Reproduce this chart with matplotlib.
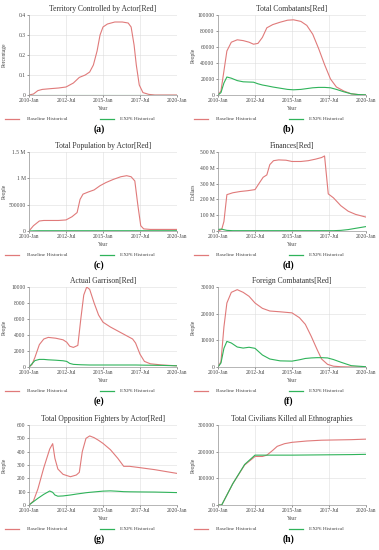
import matplotlib.pyplot as plt
import numpy as np

plt.rcParams['font.family'] = ['Liberation Serif', 'DejaVu Serif']

RED = '#e07a7a'
GREEN = '#2fb35a'

xticks = [2010, 2012.5, 2015, 2017.5, 2020]
xticklabels = ['2010-Jan', '2012-Jul', '2015-Jan', '2017-Jul', '2020-Jan']

# (a) Territory Controlled by Actor[Red]
terr_t = [2010, 2010.3, 2010.6, 2010.9, 2011.5, 2012, 2012.5, 2013, 2013.4, 2013.8, 2014.1, 2014.35,
          2014.6, 2014.8, 2015.0, 2015.3, 2015.8, 2016.3, 2016.7, 2016.9, 2017.1, 2017.25, 2017.45,
          2017.7, 2018.1, 2018.5, 2020]
terr_red = [0, 0.005, 0.022, 0.028, 0.032, 0.035, 0.04, 0.06, 0.088, 0.1, 0.115, 0.15,
            0.22, 0.3, 0.34, 0.355, 0.365, 0.365, 0.36, 0.34, 0.25, 0.15, 0.05,
            0.012, 0.003, 0, 0]
terr_green_t = [2010, 2020]
terr_green = [0, 0]

# (b) Total Combatants[Red]
comb_t = [2010, 2010.2, 2010.4, 2010.6, 2010.9, 2011.3, 2011.7, 2012.1, 2012.4, 2012.7, 2013.0, 2013.3,
          2013.7, 2014.2, 2014.7, 2015.1, 2015.6, 2016.0, 2016.4, 2016.8, 2017.2, 2017.6, 2018.0,
          2018.5, 2019.0, 2019.5, 2020]
comb_red = [0, 5000, 30000, 55000, 66000, 69000, 68000, 66000, 63500, 64500, 72000, 84000,
            88000, 91000, 93500, 94000, 92000, 87000, 76000, 58000, 38000, 20000, 10000,
            5000, 1500, 500, 0]
comb_green = [0, 3000, 15000, 22500, 21000, 18000, 16500, 16200, 16000, 14000, 12500, 11500,
              10000, 8500, 7000, 6500, 7000, 8000, 9000, 9500, 9500, 9000, 7000,
              4000, 1500, 500, 200]

# (c) Total Population by Actor[Red]
pop_t = [2010, 2010.3, 2010.7, 2011.0, 2011.5, 2012.0, 2012.5, 2012.9, 2013.25, 2013.45, 2013.65,
         2014.0, 2014.4, 2014.8, 2015.2, 2015.7, 2016.2, 2016.6, 2016.9, 2017.15, 2017.35, 2017.55,
         2017.75, 2018.2, 2020]
pop_red = [0, 100000, 190000, 200000, 200000, 200000, 210000, 270000, 350000, 600000, 700000,
           740000, 780000, 860000, 920000, 980000, 1030000, 1050000, 1030000, 950000, 500000, 100000,
           40000, 30000, 30000]
pop_green = [0, 3000, 5000, 5000, 5000, 5000, 5000, 5000, 5000, 5000, 5000,
             5000, 5000, 5000, 5000, 5000, 5000, 5000, 5000, 5000, 5000, 5000,
             5000, 5000, 5000]

# (d) Finances[Red]
fin_t = [2010, 2010.25, 2010.4, 2010.6, 2011.0, 2011.5, 2012.0, 2012.5, 2012.8, 2013.05, 2013.3,
         2013.5, 2013.75, 2014.1, 2014.6, 2015.0, 2015.6, 2016.1, 2016.6, 2017.0, 2017.2, 2017.45,
         2017.8, 2018.3, 2018.8, 2019.3, 2020]
fin_red = [0, 10e6, 60e6, 230e6, 242e6, 250e6, 255e6, 262e6, 305e6, 340e6, 355e6,
           420e6, 445e6, 450e6, 448e6, 440e6, 440e6, 445e6, 455e6, 465e6, 475e6, 235e6,
           210e6, 160e6, 125e6, 105e6, 88e6]
fin_green = [10e6, 12e6, 8e6, 4e6, 2e6, 2e6, 2e6, 2e6, 2e6, 2e6, 2e6,
             2e6, 2e6, 2e6, 2e6, 2e6, 2e6, 2e6, 2e6, 2e6, 2e6, 2e6,
             2e6, 4e6, 9e6, 17e6, 28e6]

# (e) Actual Garrison[Red]
gar_t = [2010, 2010.2, 2010.4, 2010.7, 2011.0, 2011.3, 2011.8, 2012.3, 2012.55, 2012.75, 2013.0,
         2013.3, 2013.5, 2013.7, 2013.9, 2014.1, 2014.4, 2014.7, 2015.0, 2015.5, 2016.0, 2016.5,
         2017.0, 2017.2, 2017.5, 2017.8, 2018.2, 2019.0, 2020]
gar_red = [0, 300, 1200, 2800, 3500, 3700, 3600, 3400, 3100, 2600, 2450,
           2700, 6000, 9000, 10000, 9700, 8000, 6500, 5600, 5000, 4500, 4000,
           3500, 3000, 1600, 700, 400, 250, 150]
gar_green = [0, 400, 800, 950, 950, 900, 850, 780, 700, 450, 330,
             300, 280, 270, 260, 250, 250, 250, 250, 250, 250, 250,
             250, 250, 240, 230, 220, 200, 150]

# (f) Foreign Combatants[Red]
for_t = [2010, 2010.2, 2010.4, 2010.6, 2010.9, 2011.3, 2011.7, 2012.1, 2012.5, 2013.0, 2013.5,
         2014.2, 2015.0, 2015.5, 2015.9, 2016.3, 2016.7, 2017.0, 2017.4, 2017.8, 2018.3, 2019.0, 2020]
for_red = [0, 2000, 15000, 24000, 28000, 29000, 28000, 26500, 24000, 22000, 21000,
           20700, 20300, 18500, 16000, 11500, 6500, 3000, 1000, 300, 100, 0, 0]
for_green = [0, 1500, 7000, 9600, 9000, 7500, 7100, 7400, 7000, 4500, 3000,
             2300, 2200, 2700, 3200, 3400, 3500, 3500, 3400, 2800, 1800, 500, 100]

# (g) Total Opposition Fighters by Actor[Red]
opp_t = [2010, 2010.3, 2010.6, 2011.0, 2011.4, 2011.6, 2011.75, 2011.95, 2012.3, 2012.8, 2013.2,
         2013.4, 2013.6, 2013.85, 2014.1, 2014.4, 2014.7, 2015.0, 2015.5, 2016.0, 2016.4, 2016.8,
         2017.5, 2018.5, 2019.3, 2020]
opp_red = [0, 30, 120, 280, 420, 460, 350, 270, 230, 212, 225,
           245, 400, 500, 518, 505, 485, 462, 415, 350, 290, 290,
           280, 265, 250, 237]
opp_green = [0, 25, 50, 80, 105, 95, 75, 66, 68, 75, 82,
             85, 88, 92, 95, 98, 101, 104, 106, 103, 100, 99,
             98, 97, 95, 93]

# (h) Total Civilians Killed all Ethnographies
civ_t = [2010, 2010.25, 2011.0, 2011.8, 2012.5, 2013.0, 2013.3, 2013.7, 2014.0, 2014.5, 2015.0,
         2016.0, 2017.0, 2018.0, 2019.0, 2020]
civ_red = [0, 0, 80000, 150000, 182000, 182000, 187000, 205000, 220000, 230000, 235000,
           240000, 243000, 244000, 245000, 247000]
civ_green = [0, 0, 80000, 152000, 187000, 187000, 187000, 187000, 187000, 187000, 187000,
             187500, 188000, 188500, 189000, 190000]

panels = [
    ('Territory Controlled by Actor[Red]', 'Percentage', terr_t, terr_red, terr_green_t, terr_green,
     [0, 0.1, 0.2, 0.3, 0.4], ['0', '0.1', '0.2', '0.3', '0.4'], '(a)'),
    ('Total Combatants[Red]', 'People', comb_t, comb_red, comb_t, comb_green,
     [0, 20000, 40000, 60000, 80000, 100000], ['0', '20000', '40000', '60000', '80000', '100000'], '(b)'),
    ('Total Population by Actor[Red]', 'People', pop_t, pop_red, pop_t, pop_green,
     [0, 500000, 1000000, 1500000], ['0', '500000', '1 M', '1.5 M'], '(c)'),
    ('Finances[Red]', 'Dollars', fin_t, fin_red, fin_t, fin_green,
     [0, 100e6, 200e6, 300e6, 400e6, 500e6], ['0', '100 M', '200 M', '300 M', '400 M', '500 M'], '(d)'),
    ('Actual Garrison[Red]', 'People', gar_t, gar_red, gar_t, gar_green,
     [0, 2000, 4000, 6000, 8000, 10000], ['0', '2000', '4000', '6000', '8000', '10000'], '(e)'),
    ('Foreign Combatants[Red]', 'People', for_t, for_red, for_t, for_green,
     [0, 10000, 20000, 30000], ['0', '10000', '20000', '30000'], '(f)'),
    ('Total Opposition Fighters by Actor[Red]', 'People', opp_t, opp_red, opp_t, opp_green,
     [0, 100, 200, 300, 400, 500, 600], ['0', '100', '200', '300', '400', '500', '600'], '(g)'),
    ('Total Civilians Killed all Ethnographies', 'People', civ_t, civ_red, civ_t, civ_green,
     [0, 100000, 200000, 300000], ['0', '100000', '200000', '300000'], '(h)'),
]

W, H = 379, 550
fig = plt.figure(figsize=(W / 100, H / 100), dpi=100)

col_lr = [(29, 177), (218, 366)]
row_tb = [(15, 95), (152, 231), (287, 367), (425, 505)]

for k, (title, ylab, tr, yr, tg, yg, yt, ytl, tag) in enumerate(panels):
    l, r = col_lr[k % 2]
    t, b = row_tb[k // 2]
    ax = fig.add_axes([l / W, 1 - b / H, (r - l) / W, (b - t) / H])
    ax.plot(tr, yr, color=RED, lw=0.8)
    ax.plot(tg, yg, color=GREEN, lw=0.8)
    ax.set_xlim(2010, 2020)
    ax.set_ylim(yt[0], yt[-1])
    ax.set_xticks(xticks)
    ax.set_xticklabels(xticklabels)
    ax.set_yticks(yt)
    ax.set_yticklabels(ytl)
    ax.tick_params(labelsize=4, length=1.5, width=0.4, pad=1, colors='#444444')
    ax.grid(True, color='#dddddd', lw=0.4)
    for s in ['top', 'right']:
        ax.spines[s].set_visible(False)
    for s in ['left', 'bottom']:
        ax.spines[s].set_color('#999999')
        ax.spines[s].set_linewidth(0.5)
    ax.set_title(title, fontsize=5.5, pad=3, color='#333333')
    ax.set_xlabel('Year', fontsize=4, labelpad=2, color='#444444')
    ax.set_ylabel(ylab, fontsize=4, color='#444444')
    ax.yaxis.set_label_coords(-0.15, 0.5)

    # legend below
    base = l - 24
    ly = b + 24
    fig.add_artist(plt.Line2D([(base + 0) / W, (base + 14) / W], [1 - ly / H, 1 - ly / H], color=RED, lw=0.9))
    fig.text((base + 22) / W, 1 - ly / H, 'Baseline Historical', fontsize=3.8, va='center', color='#444444')
    fig.add_artist(plt.Line2D([(base + 95) / W, (base + 109) / W], [1 - ly / H, 1 - ly / H], color=GREEN, lw=0.9))
    fig.text((base + 115) / W, 1 - ly / H, 'EXP6 Historical', fontsize=3.8, va='center', color='#444444')
    fig.text((l + r) / 2 / W - 0.01, 1 - (b + 34) / H, tag, fontsize=7, fontweight='bold',
             ha='center', va='center')

fig.savefig('out.png', dpi=100)
